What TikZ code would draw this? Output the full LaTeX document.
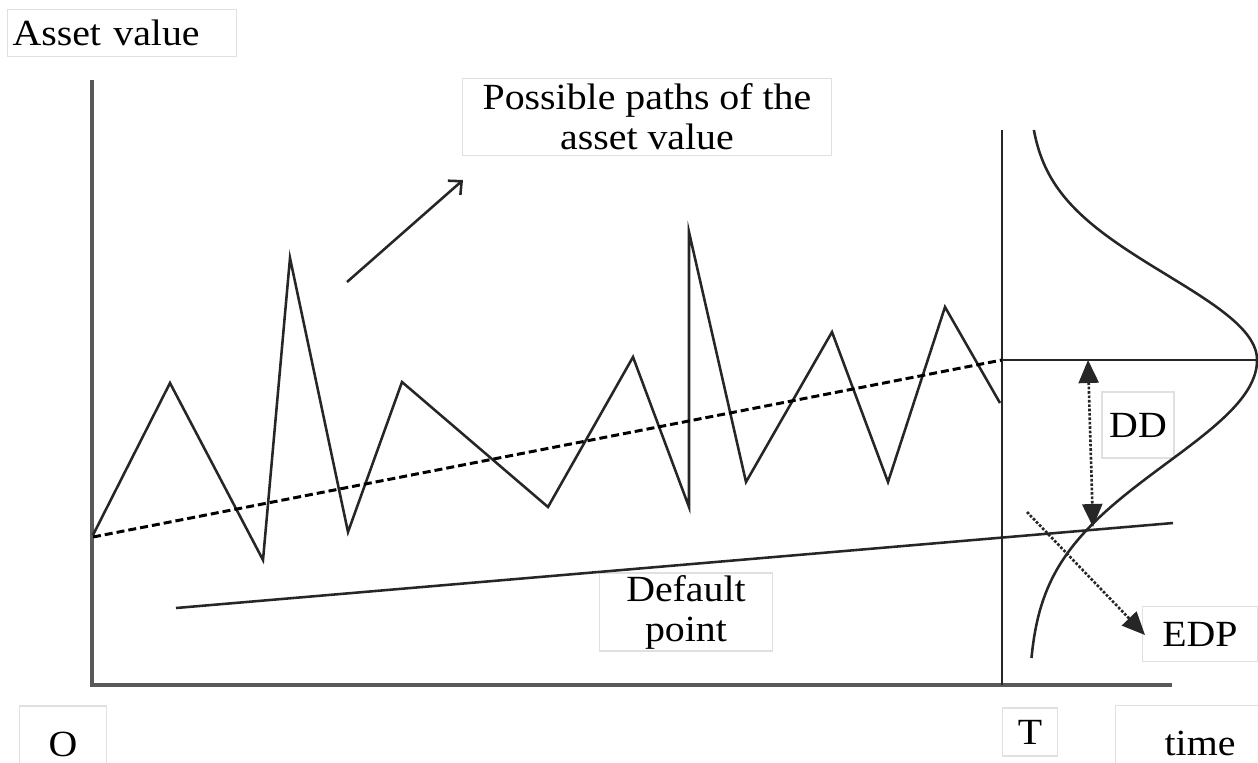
\documentclass[tikz,border=0pt]{standalone}
\usepackage{fontspec}
\setmainfont{Liberation Serif}[FakeStretch=1.08]
\usetikzlibrary{arrows.meta}
\tikzset{
  lbl/.style={draw=black!12, line width=0.6pt, align=center, inner sep=0pt,
    font=\fontsize{21}{22.8}\selectfont},
  ln/.style={line width=1.45pt, black!85},
  axis/.style={line width=2pt, black!65},
  dotarrow/.style={line width=1.5pt, densely dotted, black!85,
    -{Triangle[length=0.46cm,width=0.4cm]}},
}
\begin{document}
\begin{tikzpicture}[x=0.02cm,y=-0.02cm]
\useasboundingbox (0,0) rectangle (1258,762);
% axes
\coordinate (O) at (92,685);
\coordinate (Ytop) at (92,80);
\coordinate (Xend) at (1172,685);
\coordinate (Ttop) at (1002,130);
\coordinate (Tbot) at (1002,685);
\draw[axis] (Ytop) -- (O) -- (Xend);
\draw[ln] (Ttop) -- (Tbot);
% labels
\node[lbl, minimum width=4.58cm, minimum height=0.94cm, text width=4.38cm, align=left] (av) at (122,33) {Asset value};
\node[lbl, minimum width=7.4cm, minimum height=1.54cm] (pp) at (647,117) {Possible paths of the\\asset value};
\node[lbl, minimum width=1.44cm, minimum height=1.32cm] (dd) at (1138,425) {DD};
\node[lbl, minimum width=2.3cm, minimum height=1.1cm] (edp) at (1200,634) {EDP};
\node[lbl, minimum width=3.46cm, minimum height=1.56cm] (dp) at (686,612) {Default\\point};
\node[lbl, minimum width=1.74cm, minimum height=1.52cm] (o) at (63,744) {O};
\node[lbl, minimum width=1.1cm, minimum height=0.96cm] (t) at (1030,732) {T};
\node[lbl, minimum width=3.4cm, minimum height=1.5cm] (time) at (1200,743) {time};
% arrow to label
\coordinate (a0) at (347,282);
\coordinate (a1) at (463,180);
\draw[ln, -{Straight Barb[length=0.2cm,width=0.38cm]}] (a0) -- (a1);
% zigzag path
\draw[ln, line join=miter] (93,535) -- (170,383) -- (263,560) -- (290,258) -- (348,532) -- (402,382)
  -- (548,507) -- (633,357) -- (689,507) -- (689,232) -- (746,482) -- (832,332)
  -- (888,482) -- (945,307) -- (1000,403);
% expected path (dashed)
\coordinate (d0) at (93,537);
\coordinate (d1) at (1002,360);
\coordinate (h1) at (1258,360);
\draw[line width=1.7pt, black, dash pattern=on 0.16cm off 0.08cm] (d0) -- (d1);
\draw[ln] (d1) -- (h1);
% default point line
\coordinate (df0) at (176,608);
\coordinate (df1) at (1173,523);
\draw[ln] (df0) -- (df1);
% distribution
\draw[ln] plot[domain=130:360, samples=80, variable=\t]
  ({1028+229*exp(-((\t-360)/85)*((\t-360)/85)/2)}, {\t});
\draw[ln] plot[domain=360:658, samples=90, variable=\t]
  ({1028+229*exp(-((\t-360)/103)*((\t-360)/103)/2)}, {\t});
% DD arrow
\coordinate (ddt) at (1088,360);
\coordinate (ddb) at (1093,527);
\draw[dotarrow, {Triangle[length=0.46cm,width=0.4cm]}-{Triangle[length=0.46cm,width=0.4cm]}] (ddt) -- (ddb);
% EDP arrow
\coordinate (e0) at (1027,512);
\coordinate (e1) at (1145,635);
\draw[dotarrow] (e0) -- (e1);
\end{tikzpicture}
\end{document}
